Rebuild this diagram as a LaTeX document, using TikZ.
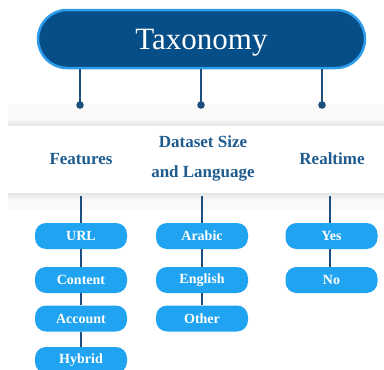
\documentclass[tikz,border=0pt]{standalone}
\usepackage{fontspec}
\setmainfont{Liberation Serif}
\definecolor{navy}{HTML}{054E88}
\definecolor{rimblue}{HTML}{2D9CEB}
\definecolor{linkblue}{HTML}{1C4F7E}
\definecolor{labelblue}{HTML}{1E5C90}
\definecolor{leafblue}{HTML}{20A3F0}
\tikzset{
  rootbox/.style={draw=rimblue, line width=2.5pt, fill=navy, rounded corners=29pt,
    minimum width=327pt, minimum height=58pt, inner sep=0pt,
    text height=21pt, text depth=1pt,
    text=white, font=\fontsize{31}{31}\selectfont},
  catlabel/.style={text=labelblue, font=\fontsize{17}{30}\selectfont\bfseries,
    align=center, inner sep=0pt},
  leafbox/.style={fill=leafblue, rounded corners=11pt, minimum width=92pt,
    minimum height=26pt, inner sep=0pt, text=white,
    font=\fontsize{14}{14}\selectfont\bfseries},
  link/.style={draw=linkblue, line width=2pt},
  dot/.style={fill=linkblue},
}
\begin{document}
\begin{tikzpicture}[x=1pt,y=-1pt]
\useasboundingbox (0,0) rectangle (384,370);
\fill[white] (0,0) rectangle (384,370);
% soft shadows framing the category strip
\fill[black!2] (8,104) rectangle (384,118);
\shade[top color=black!2, bottom color=black!9] (8,118) rectangle (384,125);
\shade[top color=black!10, bottom color=black!2] (8,193) rectangle (384,201);
\fill[black!2] (8,201) rectangle (384,210);

% root
\node[rootbox] (tax) at (201.5,39) {Taxonomy};

% stems with end dots
\coordinate (d1) at (80,105);
\coordinate (d2) at (201,105);
\coordinate (d3) at (322,105);
\foreach \d in {d1,d2,d3}{
  \draw[link] (tax.south -| \d) -- (\d);
  \fill[dot] (\d) circle (3.8);
}

% categories
\node[catlabel] (feat) at (81,159) {Features};
\node[catlabel] (data) at (203,158) {Dataset Size\\and Language};
\node[catlabel] (real) at (332,159) {Realtime};

% leaves
\node[leafbox] (url)  at (81,236)   {URL};
\node[leafbox] (cont) at (81,280)   {Content};
\node[leafbox] (acc)  at (81,318.5) {Account};
\node[leafbox] (hyb)  at (81,360)   {Hybrid};
\node[leafbox] (ara)  at (202,236)  {Arabic};
\node[leafbox] (eng)  at (202,280)  {English};
\node[leafbox] (oth)  at (202,318.5){Other};
\node[leafbox] (yes)  at (331.5,236){Yes};
\node[leafbox] (no)   at (331.5,280){No};

% feeders from the strip
\coordinate (f1) at (81,196);
\coordinate (f2) at (202,196);
\coordinate (f3) at (330,196);
\draw[link] (f1) -- (f1 |- url.north);
\draw[link] (f2) -- (f2 |- ara.north);
\draw[link] (f3) -- (f3 |- yes.north);

% chains
\draw[link] (url) -- (cont);
\draw[link] (cont) -- (acc);
\draw[link] (acc) -- (hyb);
\draw[link] (ara) -- (eng);
\draw[link] (eng) -- (oth);
\draw[link] (yes.south -| f3) -- (no.north -| f3);
\end{tikzpicture}
\end{document}
